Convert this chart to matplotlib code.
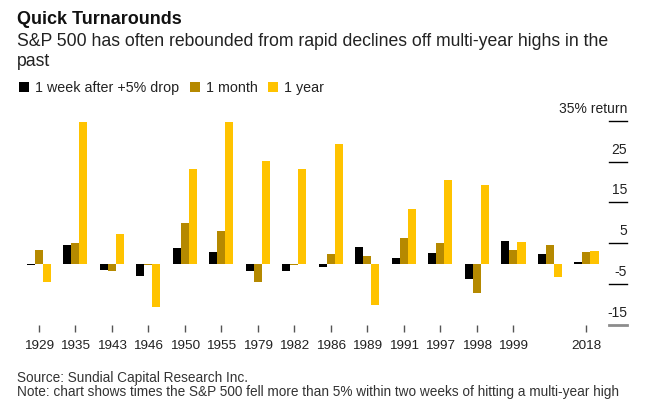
import numpy as np
import matplotlib.pyplot as plt
from matplotlib.transforms import offset_copy

plt.rcParams['font.family'] = ['Liberation Sans', 'DejaVu Sans']

# years of each episode (one group has no label in the source chart)
years = ['1929', '1935', '1943', '1946', '1950', '1955', '1979', '1982',
         '1986', '1989', '1991', '1997', '1998', '1999', '', '2018']
# returns in percent
week = [-0.2, 4.6, -1.5, -2.9, 3.9, 2.9, -1.7, -1.7,
        -0.7, 4.1, 1.5, 2.7, -3.7, 5.6, 2.4, 0.5]
month = [3.4, 5.1, -1.7, -0.2, 10.0, 8.0, -4.6, -0.2,
         2.4, 2.0, 6.3, 5.1, -7.1, 3.4, 4.6, 2.9]
year = [-4.4, 34.6, 7.3, -10.5, 23.2, 34.6, 25.1, 23.2,
        29.3, -10.0, 13.4, 20.5, 19.3, 5.4, -3.2, 3.2]

yticks = [35, 25, 15, 5, -5, -15]
ylabels = ['35% return', '25', '15', '5', '-5', '-15']

c_week = '#000000'
c_month = '#b58900'
c_year = '#ffc300'

fig = plt.figure(figsize=(6.49, 4.13), dpi=100)
ax = fig.add_axes([0.0385, 0.2131, 0.9276, 0.4947])

x = np.arange(len(years))
w = 0.22
b1 = ax.bar(x - w, week, w, color=c_week, label='1 week after +5% drop')
b2 = ax.bar(x, month, w, color=c_month, label='1 month')
b3 = ax.bar(x + w, year, w, color=c_year, label='1 year')

ax.set_xlim(-0.38, 16.11)
ax.set_ylim(-15, 35)

# short reference lines on the right with labels above them
for v, lab in zip(yticks, ylabels):
    col = '#8c8c8c' if v == -15 else '#000000'
    lw = 2 if v == -15 else 1
    ax.axhline(v, xmin=0.970, xmax=1.0, color=col, lw=lw, clip_on=False)
    tr = offset_copy(ax.get_yaxis_transform(), fig=fig, x=0, y=8.6, units='points')
    ax.text(1.0, v, lab, transform=tr, ha='right', va='center',
            fontsize=10, color='#222222')

for s in ax.spines.values():
    s.set_visible(False)
ax.set_yticks([])
tick_pos = [i for i, yr in enumerate(years) if yr]
ax.set_xticks(tick_pos)
ax.set_xticklabels([years[i] for i in tick_pos])
ax.tick_params(axis='x', length=5, width=1, color='#555555', pad=6,
               labelsize=9.7, labelcolor='#222222')

fig.text(0.0257, 1 - 19.3 / 413, 'Quick Turnarounds', fontsize=13,
         fontweight='bold', va='center', ha='left', color='#111111')
fig.text(0.0257, 1 - 41.7 / 413,
         'S&P 500 has often rebounded from rapid declines off multi-year highs in the',
         fontsize=12.7, va='center', ha='left', color='#222222')
fig.text(0.0257, 1 - 62 / 413, 'past', fontsize=12.7, va='center', ha='left',
         color='#222222')

fig.legend(handles=[b1, b2, b3], loc='center left',
           bbox_to_anchor=(0.021, 1 - 88 / 413), ncol=3, frameon=False,
           fontsize=10.3, handlelength=0.7, handleheight=0.7,
           handletextpad=0.4, columnspacing=0.75, borderaxespad=0,
           labelcolor='#222222')

fig.text(0.0257, 1 - 378 / 413, 'Source: Sundial Capital Research Inc.',
         fontsize=9.8, va='center', ha='left', color='#333333')
fig.text(0.0257, 1 - 392 / 413,
         'Note: chart shows times the S&P 500 fell more than 5% within two weeks of hitting a multi-year high',
         fontsize=9.8, va='center', ha='left', color='#333333')

fig.savefig('out.png', dpi=100)
